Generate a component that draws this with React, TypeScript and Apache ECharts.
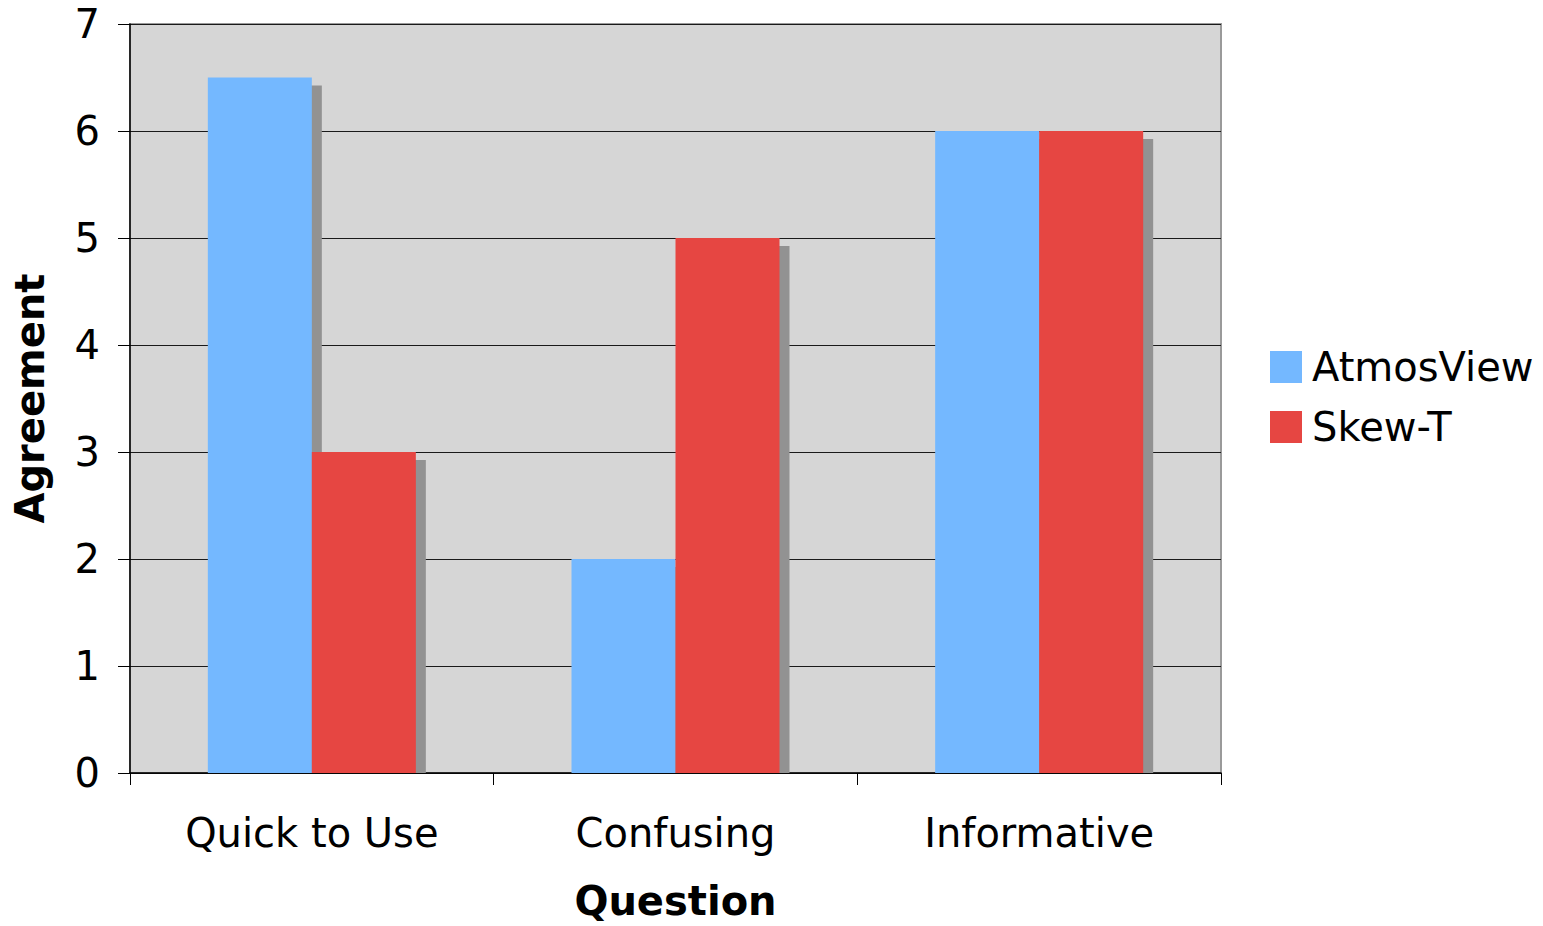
import React, { useEffect, useRef } from "react";
import * as echarts from "echarts";

const categories = ["Quick to Use", "Confusing", "Informative"];
const atmosView = [6.5, 2, 6];
const skewT = [3, 5, 6];
const yTicks = [0, 1, 2, 3, 4, 5, 6, 7];

const BLUE = "#74b8ff";
const RED = "#e64642";
const SHADOW = "#929292";
const BAR_RATIO = 0.286;

export default function App() {
  const ref = useRef<HTMLDivElement>(null);
  useEffect(() => {
    if (!ref.current) return;
    const chart = echarts.init(ref.current, null, { renderer: "svg" });
    const shadowData = categories.map((_, i) => [i, atmosView[i], skewT[i]]);
    chart.setOption({
      animation: false,
      textStyle: { fontFamily: "DejaVu Sans" },
      grid: {
        left: 130,
        top: 24,
        right: 322,
        bottom: 153,
        show: true,
        outerBoundsMode: "none",
        containLabel: false,
        backgroundColor: "#d6d6d6",
        borderColor: "#9a9a9a",
        borderWidth: 2,
      },
      legend: {
        orient: "vertical",
        left: 1265,
        top: 342,
        itemWidth: 32,
        itemHeight: 32,
        itemGap: 20,
        icon: "rect",
        data: ["AtmosView", "Skew-T"],
        textStyle: { fontSize: 40, color: "#000", fontFamily: "DejaVu Sans", padding: [0, 0, 0, 5] },
      },
      xAxis: {
        type: "category",
        data: categories,
        name: "Question",
        nameLocation: "middle",
        nameGap: 108,
        nameTextStyle: { fontSize: 40, fontWeight: "bold", color: "#000" },
        axisLine: { show: true, lineStyle: { color: "#000", width: 1.5 } },
        axisTick: { show: true, length: 12, alignWithLabel: false, lineStyle: { color: "#000" } },
        axisLabel: { fontSize: 40, color: "#000", margin: 40 },
      },
      yAxis: {
        type: "value",
        min: yTicks[0],
        max: yTicks[yTicks.length - 1],
        interval: 1,
        name: "Agreement",
        nameLocation: "middle",
        nameGap: 80,
        nameTextStyle: { fontSize: 40, fontWeight: "bold", color: "#000" },
        axisLine: { show: true, lineStyle: { color: "#000", width: 1.5 } },
        axisTick: { show: true, length: 12, lineStyle: { color: "#000" } },
        axisLabel: { fontSize: 40, color: "#000", margin: 30 },
        splitLine: { show: true, lineStyle: { color: "#1a1a1a", width: 1 } },
      },
      series: [
        {
          type: "custom",
          name: "shadow",
          z: 1,
          silent: true,
          data: shadowData,
          encode: { x: 0, y: [1, 2] },
          renderItem: (params: any, api: any) => {
            const idx = api.value(0);
            const bandW = api.size([1, 0])[0];
            const bw = bandW * BAR_RATIO;
            const base = api.coord([idx, 0]);
            const cx = base[0];
            const by = base[1];
            const children: any[] = [];
            [1, 2].forEach((k, j) => {
              const v = api.value(k);
              const top = api.coord([idx, v])[1];
              const x0 = j === 0 ? cx - bw : cx;
              const y0 = top + 8;
              children.push({
                type: "rect",
                shape: { x: x0 + 10, y: y0, width: bw, height: Math.max(0, by - y0) },
                style: { fill: SHADOW },
              });
            });
            return { type: "group", children };
          },
        },
        {
          type: "bar",
          name: "AtmosView",
          data: atmosView,
          barWidth: `${BAR_RATIO * 100}%`,
          barGap: "0%",
          itemStyle: { color: BLUE },
          z: 3,
        },
        {
          type: "bar",
          name: "Skew-T",
          data: skewT,
          barWidth: `${BAR_RATIO * 100}%`,
          barGap: "0%",
          itemStyle: { color: RED },
          z: 3,
        },
      ],
    });
    return () => chart.dispose();
  }, []);
  return (
    <div
      ref={ref}
      style={{ position: "fixed", left: 0, top: 0, width: 1543, height: 926, background: "#fff" }}
    />
  );
}
